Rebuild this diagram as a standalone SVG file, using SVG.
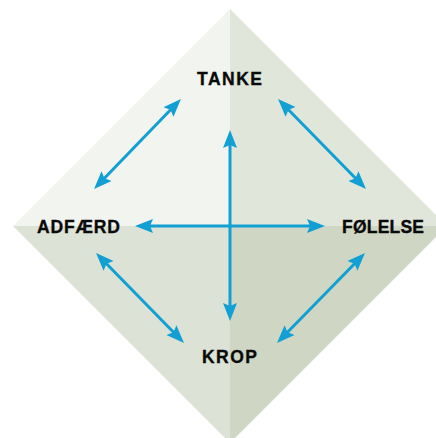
<svg xmlns="http://www.w3.org/2000/svg" width="436" height="438" viewBox="0 0 436 438">
<style>
.lbl{font-family:"Liberation Sans",Arial,sans-serif;font-weight:bold;font-size:17.5px;fill:#0a0a0a;stroke:#0a0a0a;stroke-width:0.35px;}
.con{stroke:#12a0d4;stroke-width:3;fill:none;marker-start:url(#ah);marker-end:url(#ah);}
</style>
<defs>
<marker id="ah" viewBox="0 -8 20 16" refX="10" refY="0" markerWidth="20" markerHeight="16" markerUnits="userSpaceOnUse" orient="auto-start-reverse">
<path d="M0,-7 L18,0 L0,7 L3,0 Z" fill="#12a0d4"/>
</marker>
</defs>
<rect width="436" height="438" fill="#ffffff"/>
<g id="diamond">
<polygon points="230,9 230,226 13,226" fill="#f2f4ef"/>
<polygon points="230,9 447,226 230,226" fill="#e1e6da"/>
<polygon points="13,226 230,226 230,443" fill="#dce2d5"/>
<polygon points="230,226 447,226 230,443" fill="#cfd7c4"/>
</g>
<g id="connectors">
<line class="con" x1="230" y1="138" x2="230" y2="313"/>
<line class="con" x1="143" y1="226" x2="317" y2="226"/>
<line class="con" x1="175.4" y1="104.8" x2="99.6" y2="183.3"/>
<line class="con" x1="283.6" y1="104.7" x2="360.4" y2="183.3"/>
<line class="con" x1="101.6" y1="258.7" x2="178.4" y2="337.3"/>
<line class="con" x1="359.4" y1="258.7" x2="282.6" y2="337.3"/>
</g>
<g id="tanke"><text class="lbl" x="197" y="84.5" textLength="65" lengthAdjust="spacing">TANKE</text></g>
<g id="adfaerd"><text class="lbl" x="37" y="232.5" textLength="83" lengthAdjust="spacing">ADFÆRD</text></g>
<g id="folelse"><text class="lbl" x="342" y="232.5" textLength="82" lengthAdjust="spacing">FØLELSE</text></g>
<g id="krop"><text class="lbl" x="202" y="362.5" textLength="55" lengthAdjust="spacing">KROP</text></g>
</svg>
